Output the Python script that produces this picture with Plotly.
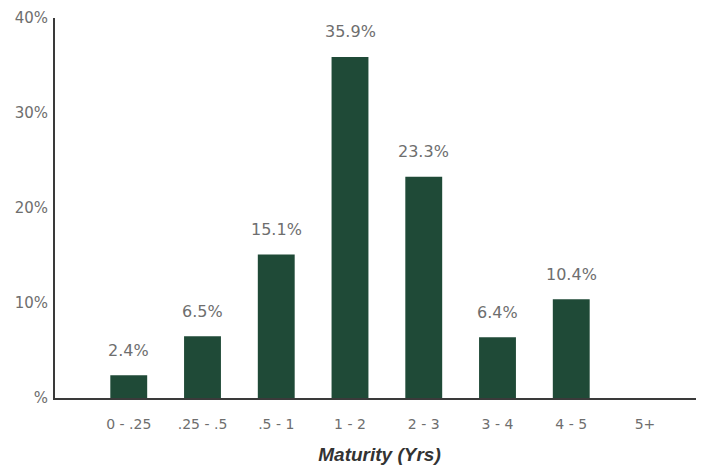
import plotly.graph_objects as go

categories = ["0 - .25", ".25 - .5", ".5 - 1", "1 - 2", "2 - 3", "3 - 4", "4 - 5", "5+"]
values = [2.4, 6.5, 15.1, 35.9, 23.3, 6.4, 10.4, 0]
labels = ["2.4%", "6.5%", "15.1%", "35.9%", "23.3%", "6.4%", "10.4%", ""]
y_tickvals = [0, 10, 20, 30, 40]
y_ticktext = ["%", "10%", "20%", "30%", "40%"]

bar_color = "#1f4a37"
grey = "#6e6e6e"
font_main = "DejaVu Sans"

fig = go.Figure()
fig.add_trace(go.Bar(x=list(range(len(categories))), y=values, width=0.5,
                     marker=dict(color=bar_color, line=dict(width=0)),
                     hoverinfo="skip"))

for i, (v, t) in enumerate(zip(values, labels)):
    if t:
        fig.add_annotation(x=i, y=v, text=t, showarrow=False, yshift=25,
                           font=dict(size=16, color=grey, family=font_main))

fig.update_layout(
    width=696, height=460,
    margin=dict(l=47, r=0, t=10, b=70),
    paper_bgcolor="white", plot_bgcolor="white",
    showlegend=False,
    font=dict(family=font_main, color=grey, size=13),
)
fig.update_xaxes(range=[-1, 7.8], tickvals=list(range(len(categories))), ticktext=categories,
                 showline=True, linecolor="#3a3a3a", linewidth=2, showgrid=False,
                 ticks="", zeroline=False, ticklabelstandoff=12,
                 tickfont=dict(size=14, color=grey, family=font_main),
                 title=dict(text="<b><i>Maturity (Yrs)</i></b>", standoff=17,
                            font=dict(size=19, color="#333333", family="Liberation Sans")))
fig.update_yaxes(range=[0, 40], tickvals=y_tickvals, ticktext=y_ticktext,
                 showline=True, linecolor="#3a3a3a", linewidth=2, showgrid=False,
                 ticks="", zeroline=False, ticklabelstandoff=2,
                 tickfont=dict(size=15, color=grey, family=font_main))

fig.write_html("out.html")
